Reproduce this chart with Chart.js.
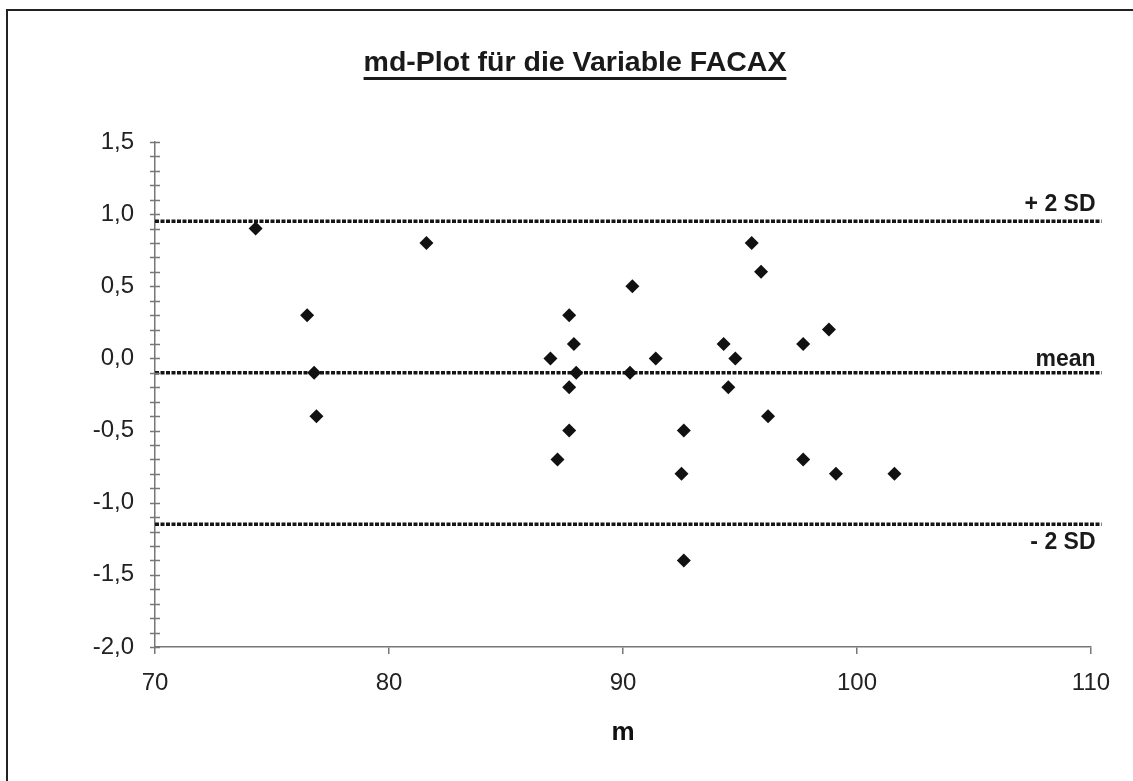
<!DOCTYPE html>
<html>
<head>
<meta charset="utf-8">
<title>md-Plot FACAX</title>
<script src="https://cdn.jsdelivr.net/npm/chart.js@4/dist/chart.umd.min.js"></script>
<style>
  body { margin: 0; background: #fff; }
  #wrap { position: relative; width: 1133px; height: 781px; overflow: hidden; }
  #frame { position: absolute; left: 6px; top: 9px; width: 1200px; height: 900px; border: 2px solid #222; pointer-events: none; }
  #title {
    position: absolute; left: 0; width: 1150px; top: 45px; text-align: center;
    font: bold 28.5px "Liberation Sans", Arial, sans-serif; color: #1a1a1a;
    text-decoration: underline; text-decoration-thickness: 3px; text-underline-offset: 6px;
  }
  canvas { position: absolute; left: 0; top: 0; }
</style>
</head>
<body>
<div id="wrap">
  <canvas id="mdChart" width="1133" height="781"></canvas>
  <div id="title">md-Plot für die Variable FACAX</div>
  <div id="frame"></div>
</div>
<script>
// m = mean of both measurements, d = difference
const mValues = [74.3, 81.6, 76.5, 76.8, 76.9, 86.9, 87.7, 87.9, 88.0, 87.7, 87.7, 87.2, 90.4, 90.3, 91.4,
                 92.6, 92.5, 92.6, 94.3, 94.8, 94.5, 96.2, 95.9, 95.5, 97.7, 98.8, 97.7, 99.1, 101.6];
const dValues = [0.9, 0.8, 0.3, -0.1, -0.4, 0.0, 0.3, 0.1, -0.1, -0.2, -0.5, -0.7, 0.5, -0.1, 0.0,
                 -0.5, -0.8, -1.4, 0.1, 0.0, -0.2, -0.4, 0.6, 0.8, 0.1, 0.2, -0.7, -0.8, -0.8];

// mean and +/- 2 SD limits
const limitNames = ['+ 2 SD', 'mean', '- 2 SD'];
const limitValues = [0.95, -0.10, -1.15];
const limitRange = [70, 110.45];
const limitTextOffset = [-10, -7, 25];

const xTicks = [70, 80, 90, 100, 110];
const yLabelTicks = [1.5, 1.0, 0.5, 0.0, -0.5, -1.0, -1.5, -2.0];

const fontFam = '"Liberation Sans", Arial, sans-serif';

let points = [];
for (let i = 0; i < mValues.length; i++) {
    points.push({x: mValues[i], y: dValues[i]});
}

let limitSets = [];
for (let i = 0; i < limitValues.length; i++) {
    limitSets.push({
        type: 'line',
        label: limitNames[i],
        data: [{x: limitRange[0], y: limitValues[i]}, {x: limitRange[1], y: limitValues[i]}],
        borderColor: '#151515',
        borderWidth: 3.5,
        borderDash: [4, 1.5],
        pointRadius: 0,
        clip: false
    });
}

// minor tick marks across the y axis and the names of the limit lines
const extras = {
    id: 'extras',
    afterDatasetsDraw(chart) {
        const ctx = chart.ctx;
        const x = chart.scales.x;
        const y = chart.scales.y;
        const ax = chart.chartArea.left;
        ctx.save();
        ctx.strokeStyle = '#777';
        ctx.lineWidth = 1.5;
        y.ticks.forEach(t => {
            const py = Math.round(y.getPixelForValue(t.value)) + 0.5;
            ctx.beginPath();
            ctx.moveTo(ax - 5, py);
            ctx.lineTo(ax + 5, py);
            ctx.stroke();
        });
        ctx.fillStyle = '#1a1a1a';
        ctx.font = 'bold 23px ' + fontFam;
        ctx.textAlign = 'right';
        ctx.textBaseline = 'alphabetic';
        const right = x.getPixelForValue(limitRange[1]) - 6;
        for (let i = 0; i < limitValues.length; i++) {
            const py = y.getPixelForValue(limitValues[i]);
            ctx.fillText(limitNames[i], right, py + limitTextOffset[i]);
        }
        ctx.restore();
    }
};

function fmt(v) {
    return v.toFixed(1).replace('.', ',');
}

const ctx = document.getElementById('mdChart').getContext('2d');
const myChart = new Chart(ctx, {
    type: 'scatter',
    data: {
        datasets: [{
            label: 'd',
            data: points,
            pointStyle: 'rectRot',
            pointRadius: 7,
            pointBorderWidth: 0,
            backgroundColor: '#111',
            borderColor: '#111'
        }].concat(limitSets)
    },
    options: {
        responsive: false,
        animation: false,
        layout: {padding: {top: 142, right: 42, bottom: 0, left: 0}},
        plugins: {legend: {display: false}, tooltip: {enabled: false}},
        scales: {
            x: {
                type: 'linear',
                min: 70,
                max: 110,
                afterBuildTicks: s => { s.ticks = xTicks.map(v => ({value: v})); },
                afterFit: s => { s.height = 134; },
                border: {display: true, color: '#777', width: 1.5},
                grid: {drawOnChartArea: false, drawTicks: true, tickLength: 7, color: '#777', lineWidth: 1.5},
                ticks: {padding: 15, color: '#222', font: {family: fontFam, size: 24}},
                title: {display: true, text: 'm', color: '#111', padding: {top: 0, bottom: 33},
                        font: {family: fontFam, size: 26, weight: 'bold'}}
            },
            y: {
                type: 'linear',
                min: -2.0,
                max: 1.5,
                afterFit: s => { s.width = 155; },
                border: {display: true, color: '#777', width: 1.5},
                grid: {display: false},
                ticks: {
                    stepSize: 0.1,
                    autoSkip: false,
                    padding: 13,
                    color: '#222',
                    font: {family: fontFam, size: 24},
                    callback: function(v) {
                        const hit = yLabelTicks.find(t => Math.abs(t - v) < 1e-6);
                        return hit === undefined ? '' : fmt(hit);
                    }
                }
            }
        }
    },
    plugins: [extras]
});
</script>
</body>
</html>
